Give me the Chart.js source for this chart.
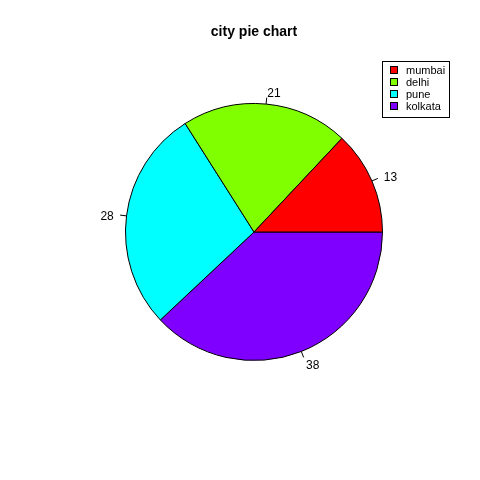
<!DOCTYPE html>
<html lang="en">
<head>
  <meta charset="UTF-8">
  <title>city pie chart</title>
  <script src="https://cdn.jsdelivr.net/npm/chart.js"></script>
  <style>
    html, body { margin: 0; padding: 0; background: #fff; }
    #wrap { width: 480px; height: 480px; }
  </style>
</head>
<body>
  <div id="wrap"><canvas id="pieChart" width="480" height="480"></canvas></div>

  <script>
    // data, in R's order (drawn counter-clockwise from 3 o'clock)
    const cities = ['mumbai', 'delhi', 'pune', 'kolkata'];
    const values = [13, 21, 28, 38];
    const colors = ['#FF0000', '#80FF00', '#00FFFF', '#8000FF'];
    const chartTitle = 'city pie chart';

    // chart.js draws clockwise, so reverse to get R's layout
    const revLabels = cities.slice().reverse();
    const revValues = values.slice().reverse();
    const revColors = colors.slice().reverse();

    const font = '"Liberation Sans", Arial, sans-serif';

    const extras = {
      id: 'extras',
      afterDraw(chart) {
        const ctx = chart.ctx;
        ctx.save();

        // title
        ctx.fillStyle = '#000';
        ctx.font = 'bold 14px ' + font;
        ctx.textAlign = 'center';
        ctx.textBaseline = 'middle';
        ctx.fillText(chartTitle, 254, 32);

        // value labels with small ticks
        const arcs = chart.getDatasetMeta(0).data;
        ctx.font = '12px ' + font;
        ctx.strokeStyle = '#000';
        ctx.lineWidth = 1;
        arcs.forEach((arc, i) => {
          const p = arc.getProps(['x', 'y', 'startAngle', 'endAngle', 'outerRadius'], true);
          const mid = (p.startAngle + p.endAngle) / 2;
          const cx = Math.cos(mid), cy = Math.sin(mid);
          ctx.beginPath();
          ctx.moveTo(p.x + cx * p.outerRadius, p.y + cy * p.outerRadius);
          ctx.lineTo(p.x + cx * p.outerRadius * 1.05, p.y + cy * p.outerRadius * 1.05);
          ctx.stroke();
          const lx = p.x + cx * p.outerRadius * 1.1;
          const ly = p.y + cy * p.outerRadius * 1.1;
          ctx.textAlign = cx >= 0 ? 'left' : 'right';
          ctx.textBaseline = 'middle';
          ctx.fillText(String(revValues[i]), lx, ly + 2);
        });

        // legend box
        const bx = 382, by = 61, bw = 67, bh = 56;
        ctx.strokeRect(bx + 0.5, by + 0.5, bw, bh);
        ctx.font = '11px ' + font;
        ctx.textAlign = 'left';
        cities.forEach((c, i) => {
          const ry = by + 9 + i * 12;
          ctx.fillStyle = colors[i];
          ctx.fillRect(bx + 8, ry - 4, 8, 8);
          ctx.strokeRect(bx + 8.5, ry - 3.5, 7, 7);
          ctx.fillStyle = '#000';
          ctx.fillText(c, bx + 24, ry + 1);
        });

        ctx.restore();
      }
    };

    new Chart(document.getElementById('pieChart'), {
      type: 'pie',
      data: {
        labels: revLabels,
        datasets: [{
          data: revValues,
          backgroundColor: revColors,
          borderColor: '#000',
          borderWidth: 1
        }]
      },
      options: {
        responsive: false,
        animation: false,
        rotation: 90,
        layout: { padding: { left: 125, right: 97, top: 103, bottom: 119 } },
        plugins: {
          legend: { display: false },
          tooltip: { enabled: false }
        }
      },
      plugins: [extras]
    });
  </script>
</body>
</html>
